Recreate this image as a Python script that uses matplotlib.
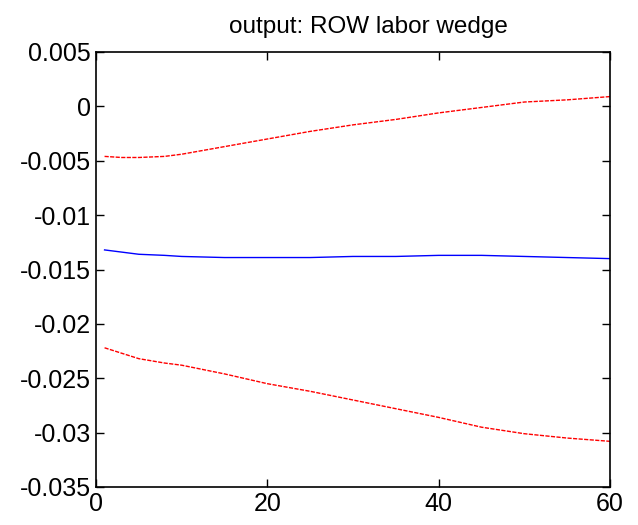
import numpy as np
import matplotlib.pyplot as plt

plt.rcParams['font.family'] = ['Liberation Sans', 'DejaVu Sans']

# horizon (quarters) and responses
t = [1, 3, 5, 8, 10, 15, 20, 25, 30, 35, 40, 45, 50, 55, 60]
median = [-0.0132, -0.0134, -0.0136, -0.0137, -0.0138, -0.0139, -0.0139, -0.0139,
          -0.0138, -0.0138, -0.0137, -0.0137, -0.0138, -0.0139, -0.0140]
upper = [-0.0046, -0.0047, -0.0047, -0.0046, -0.0044, -0.0037, -0.0030, -0.0023,
         -0.0017, -0.0012, -0.0006, -0.0001, 0.0004, 0.0006, 0.0009]
lower = [-0.0222, -0.0227, -0.0232, -0.0236, -0.0238, -0.0246, -0.0255, -0.0262,
         -0.0270, -0.0278, -0.0286, -0.0295, -0.0301, -0.0305, -0.0308]

fig = plt.figure(figsize=(6.38, 5.25), dpi=100)
ax = fig.add_axes([96 / 638, 1 - 487 / 525, 514 / 638, 435 / 525])
ax.plot(t, median, color='blue', lw=1)
ax.plot(t, upper, color='red', lw=1, ls='--', dashes=(3, 1))
ax.plot(t, lower, color='red', lw=1, ls='--', dashes=(3, 1))

ax.set_xlim(0, 60)
ax.set_ylim(-0.035, 0.005)
ax.set_xticks([0, 20, 40, 60])
ax.set_yticks(np.arange(-0.035, 0.0051, 0.005))
ax.set_yticklabels(['-0.035', '-0.03', '-0.025', '-0.02', '-0.015', '-0.01', '-0.005', '0', '0.005'])
ax.tick_params(direction='in', top=True, right=True, labelsize=18, length=6, width=1)
for s in ax.spines.values():
    s.set_linewidth(1.2)
ax.set_title('output: ROW labor wedge', fontsize=17.5, pad=14, x=0.53)

fig.savefig('out.png', dpi=100)
plt.close()
